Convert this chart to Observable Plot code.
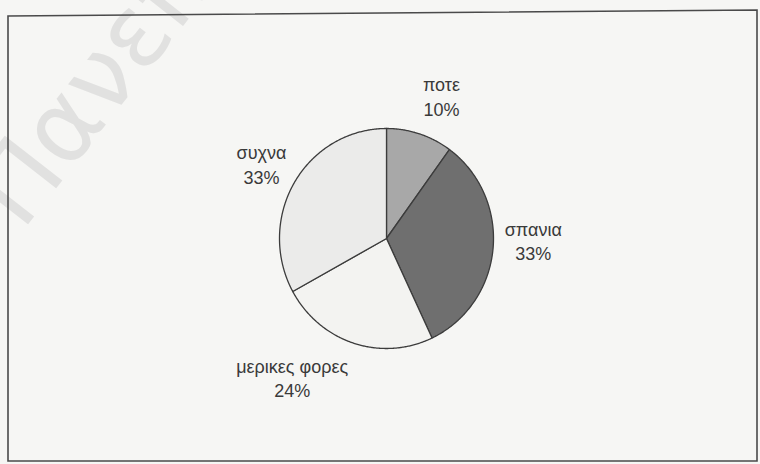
<!DOCTYPE html>
<html>
<head>
<meta charset="utf-8">
<script src="https://cdn.jsdelivr.net/npm/d3@7"></script>
<script src="https://cdn.jsdelivr.net/npm/@observablehq/plot@0.6"></script>
<style>
  html, body { margin: 0; padding: 0; background: #f6f6f4; }
  #wrap { position: relative; width: 760px; height: 464px; overflow: hidden; background: #f6f6f4; }
  #wrap svg.overlay { position: absolute; left: 0; top: 0; pointer-events: none; }
  #chart { position: absolute; left: 0; top: 0; }
</style>
</head>
<body>
<div id="wrap">
  <svg class="overlay" width="760" height="464" id="back"></svg>
  <div id="chart"></div>
  <svg class="overlay" width="760" height="464" id="front"></svg>
</div>
<script>
// ---- data ----
const categories = ["ποτε", "σπανια", "μερικες φορες", "συχνα"];
const percents = [10, 33, 24, 33];
const sliceColors = ["#a8a8a8", "#6f6f6f", "#f3f3f1", "#ebebea"];

// ---- layout (pixel nudges for label placement, like Excel's best fit) ----
const labelNudge = {"ποτε": [13, -7], "σπανια": [2, -12], "μερικες φορες": [-39, 3], "συχνα": [-4, -2]};

const total = d3.sum(percents);
let acc = 0;
const slices = categories.map((name, i) => {
  const a0 = acc / total * 2 * Math.PI;
  acc += percents[i];
  const a1 = acc / total * 2 * Math.PI;
  return {name, value: percents[i], color: sliceColors[i], a0, a1, mid: (a0 + a1) / 2};
});

function slicePoints(s) {
  const pts = [{x: 0, y: 0}];
  const n = Math.max(2, Math.ceil((s.a1 - s.a0) / (Math.PI / 360)));
  for (let k = 0; k <= n; k++) {
    const a = s.a0 + (s.a1 - s.a0) * k / n;
    pts.push({x: Math.sin(a), y: Math.cos(a)});
  }
  pts.push({x: 0, y: 0});
  return pts;
}

const marks = [];
for (const s of slices) {
  marks.push(Plot.line(slicePoints(s), {x: "x", y: "y", fill: s.color, stroke: "#3c3c3c", strokeWidth: 1.3, strokeLinejoin: "round"}));
}
for (const s of slices) {
  const sx = Math.sin(s.mid), cy = Math.cos(s.mid);
  const label = `${s.name}\n${s.value}%`;
  const w = Math.max(s.name.length, (s.value + "%").length) * 9.6;
  const h = 46;
  const nudge = labelNudge[s.name] || [0, 0];
  marks.push(Plot.text([s], {
    x: d => 1.09 * Math.sin(d.mid),
    y: d => 1.09 * Math.cos(d.mid),
    text: () => label,
    dx: sx * w / 2 + nudge[0],
    dy: -cy * h / 2 + nudge[1],
    textAnchor: "middle",
    lineAnchor: "middle",
    lineHeight: 1.35,
    fontSize: 18,
    fill: "#3a3a3a"
  }));
}

const chart = Plot.plot({
  width: 760,
  height: 464,
  marginLeft: 279,
  marginRight: 267,
  marginTop: 128,
  marginBottom: 116,
  x: {domain: [-1, 1], axis: null},
  y: {domain: [-1, 1], axis: null},
  style: {background: "transparent", fontFamily: "'Liberation Sans', Arial, sans-serif", fontSize: "18px", overflow: "visible"},
  marks
});
document.getElementById("chart").appendChild(chart);

// watermark (scan background)
const back = d3.select("#back");
back.append("text")
  .attr("x", 22).attr("y", 232)
  .attr("transform", "rotate(-52 22 232)")
  .attr("font-family", "'DejaVu Sans', sans-serif")
  .attr("font-size", 100)
  .attr("fill", "#e1e1e0")
  .text("Πανεπ");

// frame
const front = d3.select("#front");
front.append("path")
  .attr("d", "M8,16 L757,10 L757,461 L8,461 Z")
  .attr("fill", "none")
  .attr("stroke", "#4a4a4a")
  .attr("stroke-width", 1.6);
</script>
</body>
</html>
